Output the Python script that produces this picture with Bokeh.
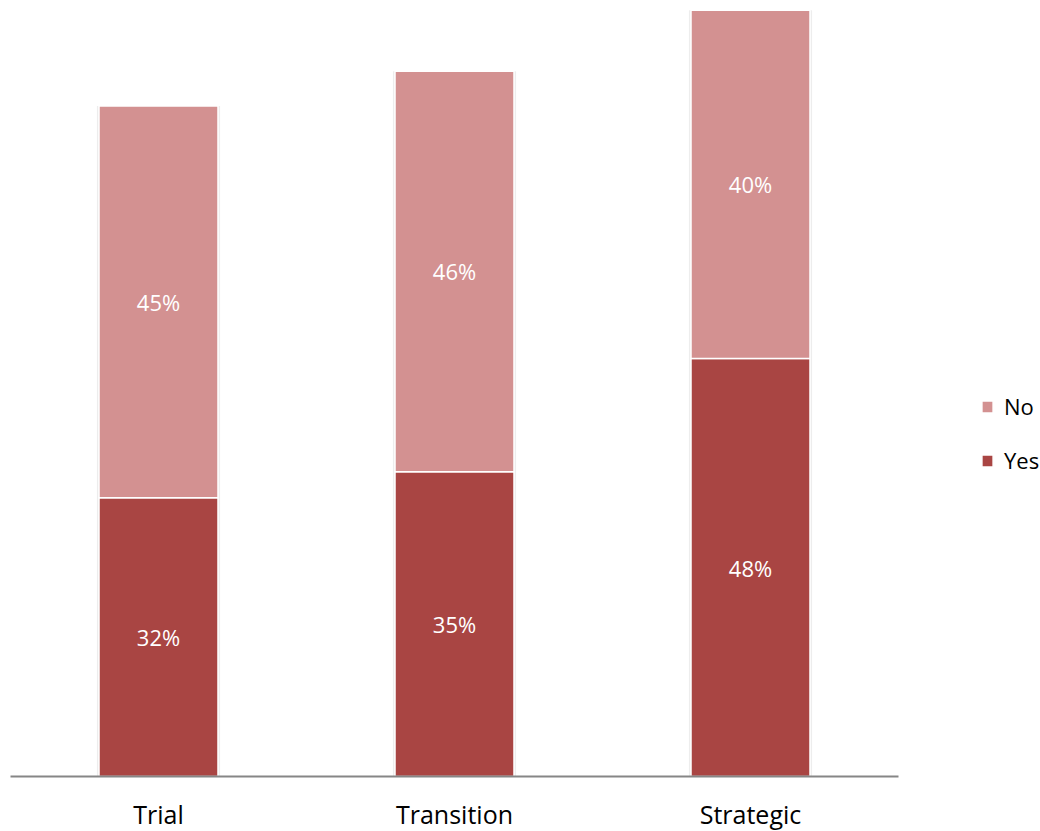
from bokeh.plotting import figure
from bokeh.models import ColumnDataSource, FactorRange, Range1d, Legend, LegendItem, LabelSet
from bokeh.core.properties import value
from bokeh.embed import file_html
from bokeh.resources import INLINE

categories = ["Trial", "Transition", "Strategic"]
yes_vals = [32, 35, 48]
no_vals = [45, 46, 40]
yes_labels = ["32%", "35%", "48%"]
no_labels = ["45%", "46%", "40%"]

YES_COLOR = "#A94543"
NO_COLOR = "#D39191"
FONT = "Open Sans"

no_top = [a + b for a, b in zip(yes_vals, no_vals)]
yes_mid = [v / 2 for v in yes_vals]
no_mid = [a + b / 2 for a, b in zip(yes_vals, no_vals)]

src = ColumnDataSource(dict(cat=categories, yes_top=yes_vals, no_bottom=yes_vals,
                            no_top=no_top, yes_mid=yes_mid, no_mid=no_mid,
                            yes_lab=yes_labels, no_lab=no_labels))

p = figure(x_range=FactorRange(*categories, range_padding=0), y_range=Range1d(0, 88.2),
           frame_width=888, frame_height=768, output_backend="svg", toolbar_location=None,
           min_border_left=10, min_border_right=126, min_border_top=8, min_border_bottom=0)

# subtle shadow
p.vbar(x="cat", bottom=0, top="no_top", width=0.416, source=src, fill_color="#000000",
       fill_alpha=0.07, line_color=None)
r_yes = p.vbar(x="cat", bottom=0, top="yes_top", width=0.402, source=src,
               fill_color=YES_COLOR, line_color="white", line_width=1.5)
r_no = p.vbar(x="cat", bottom="no_bottom", top="no_top", width=0.402, source=src,
              fill_color=NO_COLOR, line_color="white", line_width=1.5)

for col, labcol in (("yes_mid", "yes_lab"), ("no_mid", "no_lab")):
    p.add_layout(LabelSet(x="cat", y=col, text=labcol, source=src, text_color="white",
                          text_font=value(FONT), text_font_size="22px", text_align="center",
                          text_baseline="middle"))

p.yaxis.visible = False
p.grid.visible = False
p.outline_line_color = None
p.xaxis.axis_line_color = "#868686"
p.xaxis.axis_line_width = 2
p.xaxis.major_tick_line_color = None
p.xaxis.minor_tick_line_color = None
p.xaxis.major_label_text_font = FONT
p.xaxis.major_label_text_font_size = "25px"
p.xaxis.major_label_text_color = "#000000"
p.xaxis.major_label_standoff = 14

legend = Legend(items=[LegendItem(label="No", renderers=[r_no]),
                       LegendItem(label="Yes", renderers=[r_yes])],
                location=(82, 301), border_line_color=None, background_fill_alpha=0,
                label_text_font=FONT, label_text_font_size="22px", label_text_color="#000000",
                glyph_width=14, glyph_height=15, label_height=30, spacing=24,
                label_standoff=10, margin=0, padding=0)
p.add_layout(legend, "right")

open("out.html", "w").write(file_html(p, INLINE))
